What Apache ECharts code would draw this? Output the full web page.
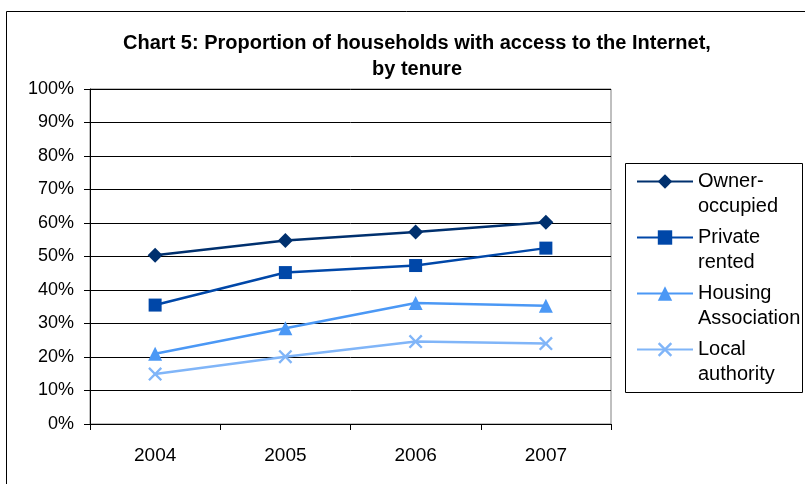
<!DOCTYPE html>
<html>
<head>
<meta charset="utf-8">
<script src="https://cdn.jsdelivr.net/npm/echarts@6/dist/echarts.min.js"></script>
<style>html,body{margin:0;padding:0;background:#fff}#c{width:805px;height:484px}</style>
</head>
<body>
<div id="c"></div>
<script>
var years = ['2004', '2005', '2006', '2007'];
var ownerOccupied = [50.4, 54.8, 57.3, 60.2];
var privateRented = [35.5, 45.2, 47.3, 52.5];
var housingAssociation = [21.0, 28.6, 36.1, 35.3];
var localAuthority = [14.9, 20.1, 24.6, 24.0];
var seriesNames = ['Owner-\noccupied', 'Private\nrented', 'Housing\nAssociation', 'Local\nauthority'];
var colors = ['#00306E', '#0047A8', '#4B98F5', '#80B5F8'];
var yTicks = [0, 10, 20, 30, 40, 50, 60, 70, 80, 90, 100];

var crossPath = 'path://M0,1.2L1.2,0L5,3.8L8.8,0L10,1.2L6.2,5L10,8.8L8.8,10L5,6.2L1.2,10L0,8.8L3.8,5Z';
var symbols = ['diamond', 'rect', 'triangle', crossPath];
var symbolSizes = [15, 13, 14, 14];
var dataSets = [ownerOccupied, privateRented, housingAssociation, localAuthority];

var font = 'Liberation Sans, Arial, sans-serif';
var chart = echarts.init(document.getElementById('c'), null, {renderer: 'canvas'});
var series = dataSets.map(function (d, i) {
  return {
    name: seriesNames[i],
    type: 'line',
    data: d,
    symbol: symbols[i],
    symbolSize: symbolSizes[i],
    showAllSymbol: true,
    lineStyle: {color: colors[i], width: 2.5},
    itemStyle: {color: colors[i]},
    emphasis: {disabled: true},
    animation: false
  };
});

chart.setOption({
  animation: false,
  color: colors,
  title: {
    text: 'Chart 5: Proportion of households with access to the Internet,\nby tenure',
    left: 412,
    top: 25,
    textAlign: 'center',
    textStyle: {fontFamily: font, fontSize: 20, fontWeight: 'bold', color: '#000', lineHeight: 26}
  },
  graphic: [
    {type: 'rect', shape: {x: 6.5, y: 11.5, width: 820, height: 500}, style: {fill: 'none', stroke: '#000', lineWidth: 1}, z: -10},
    {type: 'rect', shape: {x: 625.5, y: 163.5, width: 177, height: 229}, style: {fill: '#fff', stroke: '#000', lineWidth: 1}, z: -5}
  ],
  legend: {
    orient: 'vertical',
    left: 636,
    top: 144,
    padding: 0,
    itemWidth: 56,
    itemHeight: 18,
    itemGap: -19,
    data: seriesNames,
    formatter: function (name) { return '\n' + name; },
    textStyle: {fontFamily: font, fontSize: 20, color: '#000', lineHeight: 25}
  },
  grid: {left: 90, top: 89, right: 194, bottom: 60, show: true, borderColor: '#808080', borderWidth: 1, backgroundColor: 'transparent'},
  xAxis: {
    type: 'category',
    data: years,
    boundaryGap: true,
    axisLine: {show: true, lineStyle: {color: '#000', width: 1}},
    axisTick: {show: true, inside: false, length: 6, interval: 0, lineStyle: {color: '#000'}},
    axisLabel: {fontFamily: font, fontSize: 19, color: '#000', margin: 22},
    splitLine: {show: false}
  },
  yAxis: {
    type: 'value',
    min: yTicks[0],
    max: yTicks[yTicks.length - 1],
    interval: 10,
    axisLine: {show: true, lineStyle: {color: '#000', width: 1}},
    axisTick: {show: true, inside: false, length: 6, lineStyle: {color: '#000'}},
    axisLabel: {fontFamily: font, fontSize: 18, color: '#000', margin: 16, formatter: '{value}%'},
    splitLine: {show: true, lineStyle: {color: '#000', width: 1}}
  },
  series: series
});
</script>
</body>
</html>
